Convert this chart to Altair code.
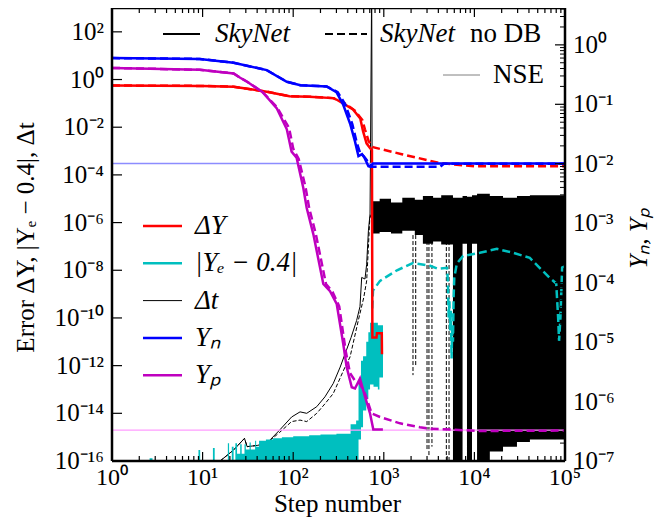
import altair as alt
import pandas as pd

# ---------------- values ----------------
# Delta Y  (SkyNet, solid)  -> left axis
dY_steps = [1, 10, 22, 51, 91, 150, 275, 300, 355, 457, 550, 590, 645, 710, 740, 748, 830, 840, 950, 955]
dY_vals = [0.56, 0.54, 0.50, 0.31, 0.20, 0.19, 0.166, 0.145, 0.10, 0.056, 0.023, 6.8e-3, 2.1e-3,
           1.3e-3, 1.1e-3, 1.5e-11, 1.5e-11, 2.3e-11, 2.3e-11, 3.0e-12]
# Delta Y  (SkyNet no DB, dashed)
dYd_steps = [1, 10, 22, 51, 91, 150, 275, 310, 370, 480, 580, 620, 680, 740, 760, 1580, 4200, 10000, 100000]
dYd_vals = [0.56, 0.54, 0.50, 0.31, 0.20, 0.19, 0.166, 0.15, 0.10, 0.05, 0.02, 8.0e-3, 2.6e-3,
            1.6e-3, 1.45e-3, 7.4e-4, 3.1e-4, 2.3e-4, 2.3e-4]

# |Ye - 0.4| (SkyNet, solid): noisy band  lo / hi
ye_steps = [1, 2.6, 2.8, 9.0, 9.4, 13.0, 13.6, 19, 19.6, 21, 22, 23, 24, 26, 27, 29, 30, 33, 34, 38,
            39, 42, 50, 60, 75, 100, 150, 200, 300, 430, 495, 526, 560, 590, 640, 675, 705, 770, 860,
            895, 980]
ye_lo = [1e-16, 1e-16, 1e-16, 1e-16, 1e-16, 1e-16, 1e-16, 1e-16, 1e-16, 1e-16, 1e-16, 1e-16, 1e-16,
         1e-16, 1e-16, 1e-16, 1e-16, 1e-16, 1e-16, 1e-16, 1e-16, 1e-16, 1e-16, 1e-16, 1e-16, 1e-16,
         1e-16, 1e-16, 1e-16, 1e-16, 1e-16,
         8.0e-16, 2.6e-15, 1.3e-14, 4.0e-14, 1.0e-13, 1.6e-13, 1.3e-13, 1.0e-13, 3.2e-13, 3.2e-13]
ye_hi = [1e-16, 1.3e-16, 1e-16, 2.9e-16, 1e-16, 3.5e-16, 1e-16, 5.6e-16, 1e-16, 4.0e-16, 1e-16,
         5.6e-16, 2.0e-16, 5.0e-16, 2.0e-16, 5.0e-16, 3.0e-16, 6.0e-16, 3.0e-16, 7.0e-16, 4.0e-16,
         7.0e-16, 8.0e-16, 9.0e-16, 1.0e-15, 1.1e-15, 1.2e-15, 1.3e-15, 1.4e-15, 3.5e-15, 5.0e-15,
         2.0e-13, 1.6e-12, 2.5e-12, 1.0e-11, 2.5e-11, 6.3e-11, 6.3e-11, 5.0e-11, 5.0e-11, 3.2e-13]
# |Ye - 0.4| (no DB, dashed)
yed_steps = [745, 760, 908, 1400, 2090, 3240, 3970, 4980, 5100, 5200, 5300, 5400, 5500, 5600, 5700,
             5800, 5900, 6000, 6400, 7500, 11500, 17700, 26900, 40900, 52500, 67500, 80000, 84000,
             86000, 89000, 93000, 100000]
yed_vals = [2.5e-10, 1.4e-9, 3.6e-9, 1.0e-8, 2.0e-8, 1.55e-8, 1.15e-8, 1.26e-8, 3.6e-9, 1.0e-10,
            5.0e-10, 3.0e-11, 2.0e-10, 2.0e-12, 5.0e-11, 1.0e-11, 8.0e-10, 5.0e-9, 1.9e-8, 4.0e-8,
            5.4e-8, 7.9e-8, 5.4e-8, 3.3e-8, 1.26e-8, 4.9e-9, 2.8e-9, 1.0e-10, 1.1e-11, 1.0e-10,
            1.3e-8, 1.5e-8]

# Delta t (SkyNet, solid)
dt_steps = [15.6, 22, 29, 31, 40, 51, 71, 96, 119, 141, 182, 224, 277, 330, 435, 501, 546, 570, 620,
            647, 676, 705, 735, 745]
dt_vals = [1e-16, 2.9e-16, 8.9e-16, 4.0e-16, 4.5e-16, 5.5e-16, 2.0e-15, 7.0e-15, 1.15e-14, 1.0e-14,
           1.9e-14, 4.9e-14, 1.8e-13, 8.7e-13, 1.5e-11, 7.8e-11, 3.0e-10, 5.0e-9, 4.3e-9, 1.8e-8,
           4.5e-7, 2.3e-6, 1.0e4, 5.0e-6]
# Delta t (no DB, dashed)
dtd_steps = [15.6, 22, 29, 31, 40, 51, 71, 96, 119, 141, 182, 224, 277, 373, 424, 523, 600, 647, 676,
             700, 745]
dtd_vals = [1e-16, 2.9e-16, 8.9e-16, 4.0e-16, 4.5e-16, 5.5e-16, 1.6e-15, 4.5e-15, 5.2e-15, 4.5e-15,
            1.0e-14, 2.5e-14, 6.8e-14, 8.7e-13, 2.3e-12, 7.8e-11, 7.0e-10, 3.6e-9, 8.9e-8, 1.5e-6,
            3.0e-6]
# Delta t after the transition: dense oscillation band (both runs)
dtb_steps = [740, 900, 1200, 1600, 2200, 2700, 3500, 4300, 5800, 7400, 8280, 9410, 10700, 14800,
             20700, 29500, 41000, 100000]
dtb_lo = [3.5e-7, 4.0e-7, 3.5e-7, 4.5e-7, 3.0e-7, 1.3e-7, 1.6e-7, 1.2e-7, 1e-16, 1.3e-7, 1e-16,
          1.3e-7, 1e-16, 2.5e-16, 4.0e-16, 6.3e-16, 8.0e-16, 8.0e-16]
dtb_hi = [7.9e-6, 1.0e-5, 7.0e-6, 1.1e-5, 9.0e-6, 1.3e-5, 1.1e-5, 1.4e-5, 1.1e-5, 1.3e-5, 1.2e-5,
          1.4e-5, 1.6e-5, 1.3e-5, 1.1e-5, 1.3e-5, 1.4e-5, 1.4e-5]
# deep dashed drops of Delta t (no DB)
dts_steps = [2100, 2250, 3000, 3150, 3400, 4900, 5250]
dts_top = [3e-7, 3e-7, 3e-7, 3e-7, 3e-7, 3e-7, 3e-7]
dts_bot = [4e-13, 1e-12, 3e-16, 1.5e-16, 4e-16, 1e-16, 1e-16]

# Y_n (right axis)
yn_steps = [1, 9.3, 22, 51, 85, 120, 234, 300, 355, 427, 480, 525, 575, 617, 676, 710, 760, 100000]
yn_vals = [0.60, 0.58, 0.50, 0.376, 0.24, 0.21, 0.20, 0.16, 0.10, 0.046, 0.024, 0.0134, 0.0145,
           0.0123, 9.1e-3, 8.9e-3, 0.0101, 0.0101]
ynd_steps = [1, 9.3, 22, 51, 85, 120, 234, 310, 375, 450, 505, 550, 600, 650, 700, 740, 760, 4200,
             4600, 100000]
ynd_vals = [0.60, 0.58, 0.50, 0.376, 0.24, 0.21, 0.20, 0.16, 0.10, 0.046, 0.022, 0.015, 0.0135,
            0.0115, 9.5e-3, 8.9e-3, 8.9e-3, 8.9e-3, 0.0100, 0.0100]
# Y_p (right axis)
yp_steps = [1, 9.3, 22, 26, 31, 46, 66, 85, 96, 109, 129, 141, 167, 215, 255, 302, 357, 389, 443,
            481, 546, 621, 705, 766, 977]
yp_vals = [0.41, 0.38, 0.33, 0.28, 0.24, 0.16, 0.085, 0.038, 0.016, 0.0126, 4.0e-3, 1.8e-3, 6.5e-4,
           9.5e-5, 7.2e-5, 4.4e-5, 9.3e-6, 3.8e-6, 1.74e-6, 1.66e-6, 2.45e-6, 1.2e-6, 6.3e-7, 3.4e-7,
           3.4e-7]
ypd_steps = [1, 9.3, 22, 26, 31, 46, 66, 90, 100, 115, 137, 150, 178, 230, 272, 322, 380, 424, 485,
             546, 621, 735, 908, 1510, 2500, 3240, 11500, 100000]
ypd_vals = [0.41, 0.38, 0.33, 0.28, 0.24, 0.16, 0.09, 0.04, 0.018, 0.012, 4.0e-3, 1.8e-3, 6.5e-4,
            9.5e-5, 7.0e-5, 4.0e-5, 7.0e-6, 3.0e-6, 2.2e-6, 2.0e-6, 1.35e-6, 6.3e-7, 5.5e-7, 4.3e-7,
            3.7e-7, 3.5e-7, 3.2e-7, 3.25e-7]
# NSE values
nse_steps = [1, 100000]
nse_yn = [0.0101, 0.0101]
nse_yp = [3.3e-7, 3.3e-7]

# axis ticks and tick labels
x_major = [1, 10, 100, 1000, 10000, 100000]
x_labels = ["10\u2070", "10\u00b9", "10\u00b2", "10\u00b3", "10\u2074", "10\u2075"]
x_minor = [m * 10.0 ** k for k in range(5) for m in range(2, 10)]
left_major = [1e-16, 1e-14, 1e-12, 1e-10, 1e-8, 1e-6, 1e-4, 1e-2, 1, 100]
left_labels = ["10\u207b\u00b9\u2076", "10\u207b\u00b9\u2074", "10\u207b\u00b9\u00b2", "10\u207b\u00b9\u2070",
               "10\u207b\u2078", "10\u207b\u2076", "10\u207b\u2074", "10\u207b\u00b2", "10\u2070", "10\u00b2"]
right_major = [1e-7, 1e-6, 1e-5, 1e-4, 1e-3, 1e-2, 1e-1, 1]
right_labels = ["10\u207b\u2077", "10\u207b\u2076", "10\u207b\u2075", "10\u207b\u2074", "10\u207b\u00b3",
                "10\u207b\u00b2", "10\u207b\u00b9", "10\u2070"]
right_minor = [m * 10.0 ** k for k in range(-7, 0) for m in range(2, 10)] + [2, 3, 4]

# ---------------- layout / style ----------------
W, H = 453, 453
FONT = "Liberation Serif"
FS = 27        # legend text
FS_TICK = 25   # y tick labels
FS_XTICK = 24  # x tick labels
FS_TITLE = 25  # axis titles
RED, CYAN, BLUE, MAG = "#ff0000", "#00bfbf", "#0000ff", "#bf00bf"
DASH = [8, 4]

xs = alt.Scale(type="log", domain=[1, 1e5])
yl = alt.Scale(type="log", domain=[1e-16, 1e3])
yr = alt.Scale(type="log", domain=[1e-7, 4.17])


def line(steps, vals, color, scale, dash=None, width=2.5):
    df = pd.DataFrame({"step": steps, "v": vals})
    kw = dict(color=color, strokeWidth=width, clip=True)
    if dash:
        kw["strokeDash"] = dash
    return alt.Chart(df).mark_line(**kw).encode(
        x=alt.X("step:Q", scale=xs, axis=None),
        y=alt.Y("v:Q", scale=scale, axis=None),
        order=alt.Order("step:Q"),
    )


def band(steps, lo, hi, color, scale):
    df = pd.DataFrame({"step": steps, "lo": lo, "hi": hi})
    return alt.Chart(df).mark_area(color=color, interpolate="step-after", clip=True, opacity=1).encode(
        x=alt.X("step:Q", scale=xs, axis=None),
        y=alt.Y("lo:Q", scale=scale, axis=None),
        y2="hi:Q",
    )


one = pd.DataFrame({"k": [0]})


def fixed_rule(x1, x2, y1, y2, color, width, dash=None):
    kw = dict(color=color, strokeWidth=width)
    if dash:
        kw["strokeDash"] = dash
    return alt.Chart(one).mark_rule(**kw).encode(
        x=alt.value(x1), x2=alt.value(x2), y=alt.value(y1), y2=alt.value(y2))


def fixed_text(x, y, s, style="normal", angle=0, align="left", size=FS, baseline="middle"):
    return alt.Chart(one).mark_text(text=s, font=FONT, fontSize=size, fontStyle=style, align=align,
                                     baseline=baseline, color="black", angle=angle).encode(
        x=alt.value(x), y=alt.value(y))


# ---- inward tick marks ----
def xticks(vals, length):
    df = pd.DataFrame({"t": vals})
    bot = alt.Chart(df).mark_rule(color="black", strokeWidth=1.2).encode(
        x=alt.X("t:Q", scale=xs, axis=None), y=alt.value(H), y2=alt.value(H - length))
    top = alt.Chart(df).mark_rule(color="black", strokeWidth=1.2).encode(
        x=alt.X("t:Q", scale=xs, axis=None), y=alt.value(0), y2=alt.value(length))
    return [bot, top]


left_tick_major = alt.Chart(pd.DataFrame({"t": left_major})).mark_rule(color="black", strokeWidth=1.2).encode(
    y=alt.Y("t:Q", scale=yl, axis=None), x=alt.value(0), x2=alt.value(10))
right_tick_major = alt.Chart(pd.DataFrame({"t": right_major})).mark_rule(color="black", strokeWidth=1.2).encode(
    y=alt.Y("t:Q", scale=yr, axis=None), x=alt.value(W), x2=alt.value(W - 10))
right_tick_minor = alt.Chart(pd.DataFrame({"t": right_minor})).mark_rule(color="black", strokeWidth=1).encode(
    y=alt.Y("t:Q", scale=yr, axis=None), x=alt.value(W), x2=alt.value(W - 5))

# ---- tick labels (placed through the scales) ----
x_lab = alt.Chart(pd.DataFrame({"t": x_major, "lab": x_labels})).mark_text(
    font=FONT, fontSize=FS_XTICK, align="center", baseline="middle", color="black").encode(
    x=alt.X("t:Q", scale=xs, axis=None), y=alt.value(H + 17), text="lab:N")
left_lab = alt.Chart(pd.DataFrame({"t": left_major, "lab": left_labels})).mark_text(
    font=FONT, fontSize=FS_TICK, align="right", baseline="middle", color="black").encode(
    y=alt.Y("t:Q", scale=yl, axis=None), x=alt.value(-8), text="lab:N")
right_lab = alt.Chart(pd.DataFrame({"t": right_major, "lab": right_labels})).mark_text(
    font=FONT, fontSize=FS_TICK, align="left", baseline="middle", color="black").encode(
    y=alt.Y("t:Q", scale=yr, axis=None), x=alt.value(W + 8), text="lab:N")

spikes = alt.Chart(pd.DataFrame({"step": dts_steps, "top": dts_top, "bot": dts_bot})).mark_rule(
    color="black", strokeWidth=1, strokeDash=[4, 2], clip=True).encode(
    x=alt.X("step:Q", scale=xs, axis=None),
    y=alt.Y("top:Q", scale=yl, axis=None), y2="bot:Q")

left_layers = (
    [band(dtb_steps, dtb_lo, dtb_hi, "black", yl), spikes,
     line(dt_steps, dt_vals, "black", yl, width=1),
     line(dtd_steps, dtd_vals, "black", yl, dash=[4, 2], width=1),
     band(ye_steps, ye_lo, ye_hi, CYAN, yl),
     line(yed_steps, yed_vals, CYAN, yl, dash=DASH),
     line(dYd_steps, dYd_vals, RED, yl, dash=DASH),
     line(dY_steps, dY_vals, RED, yl)]
    + xticks(x_major, 9)
    + xticks(x_minor, 5)
    + [left_tick_major, x_lab, left_lab]
)

right_layers = [
    line(nse_steps, nse_yn, "#8c8cff", yr, width=1.3),
    line(nse_steps, nse_yp, "#ff9cff", yr, width=1.3),
    line(ynd_steps, ynd_vals, BLUE, yr, dash=DASH),
    line(yn_steps, yn_vals, BLUE, yr),
    line(ypd_steps, ypd_vals, MAG, yr, dash=DASH),
    line(yp_steps, yp_vals, MAG, yr),
    right_tick_major, right_tick_minor, right_lab,
]

# ---- frame, axis titles and legends (plot-relative pixel positions) ----
deco = [
    fixed_rule(0, W, 0, 0, "black", 2.5),
    fixed_rule(0, W, H, H, "black", 2.5),
    fixed_rule(0, 0, 0, H, "black", 2.5),
    fixed_rule(W, W, 0, H, "black", 2.5),
    fixed_text(W / 2 - 1, H + 50.5, "Step number", align="center", size=FS_TITLE, baseline="alphabetic"),
    fixed_text(-86, H / 2 + 3, "Error \u0394Y, |Y\u2091 \u2212 0.4|, \u0394t", angle=270, align="center",
               size=FS_TITLE),
    fixed_text(W + 74, H / 2 + 4, "Y\u2099, Y\u209a", style="italic", angle=270, align="center",
               size=FS_TITLE),
]

legend_items = ["\u0394Y", "|Y\u2091 \u2212 0.4|", "\u0394t", "Y\u2099", "Y\u209a"]
legend_colors = [RED, CYAN, "black", BLUE, MAG]
legend_widths = [2.5, 2.5, 1, 2.5, 2.5]
for i, (lab, col, wd) in enumerate(zip(legend_items, legend_colors, legend_widths)):
    yy = 218 + 37.3 * i
    deco.append(fixed_rule(31, 70, yy, yy, col, wd))
    deco.append(fixed_text(83, yy, lab, "italic"))

deco += [
    fixed_rule(51, 88, 26, 26, "black", 2),
    fixed_text(103, 26, "SkyNet", "italic"),
    fixed_rule(213, 255, 26, 26, "black", 2, dash=DASH),
    fixed_text(268, 26, "SkyNet", "italic"),
    fixed_text(358, 26, "no DB"),
    fixed_rule(331, 368, 67, 67, "#808080", 1),
    fixed_text(381, 67, "NSE"),
]

left_group = alt.layer(*left_layers)
right_group = alt.layer(*(right_layers + deco))

chart = (
    alt.layer(left_group, right_group)
    .resolve_scale(y="independent")
    .properties(width=W, height=H, autosize=alt.AutoSizeParams(type="none"),
                padding={"left": 104, "top": 0, "right": 89, "bottom": 56})
    .configure_view(stroke=None)
    .configure(background="white")
)

chart.save("out.html", embed_options={"renderer": "svg", "actions": False})
